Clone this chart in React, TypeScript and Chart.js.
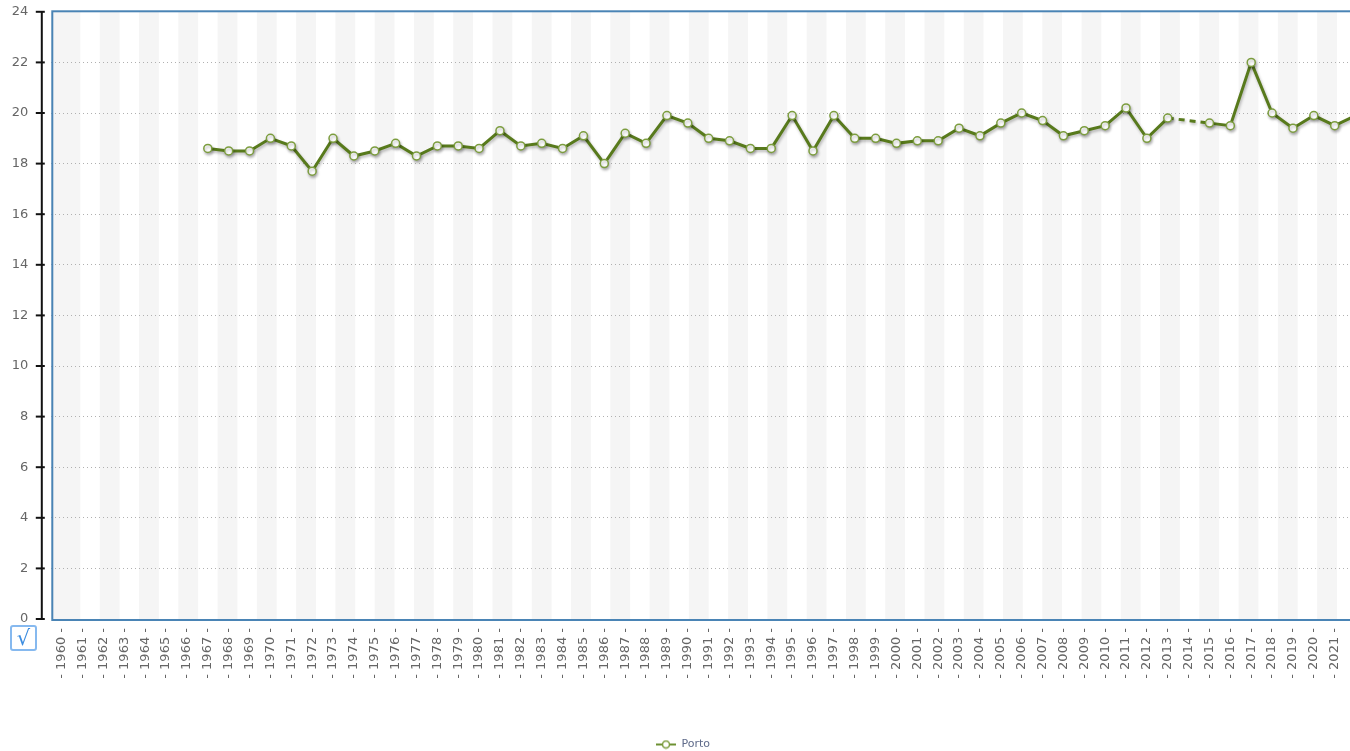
import React, { useEffect, useRef } from "react";
import { Chart, registerables } from "chart.js";

Chart.register(...registerables);

const years = [
  "1960", "1961", "1962", "1963", "1964", "1965", "1966", "1967", "1968", "1969",
  "1970", "1971", "1972", "1973", "1974", "1975", "1976", "1977", "1978", "1979",
  "1980", "1981", "1982", "1983", "1984", "1985", "1986", "1987", "1988", "1989",
  "1990", "1991", "1992", "1993", "1994", "1995", "1996", "1997", "1998", "1999",
  "2000", "2001", "2002", "2003", "2004", "2005", "2006", "2007", "2008", "2009",
  "2010", "2011", "2012", "2013", "2014", "2015", "2016", "2017", "2018", "2019",
  "2020", "2021", "2022",
];

const porto: (number | null)[] = [
  null, null, null, null, null, null, null, 18.6, 18.5, 18.5,
  19.0, 18.7, 17.7, 19.0, 18.3, 18.5, 18.8, 18.3, 18.7, 18.7,
  18.6, 19.3, 18.7, 18.8, 18.6, 19.1, 18.0, 19.2, 18.8, 19.9,
  19.6, 19.0, 18.9, 18.6, 18.6, 19.9, 18.5, 19.9, 19.0, 19.0,
  18.8, 18.9, 18.9, 19.4, 19.1, 19.6, 20.0, 19.7, 19.1, 19.3,
  19.5, 20.2, 19.0, 19.8, null, 19.6, 19.5, 22.0, 20.0, 19.4,
  19.9, 19.5, 19.9,
];

const seriesName = "Porto";
const yMin = 0;
const yMax = 24;
const yStep = 2;

const LINE = "#587a1c";
const POINT_BORDER = "#7c9d3e";

export default function App() {
  const ref = useRef<HTMLCanvasElement | null>(null);

  useEffect(() => {
    if (!ref.current) return;

    const icon = document.createElement("canvas");
    icon.width = 20;
    icon.height = 10;
    const ic = icon.getContext("2d")!;
    ic.strokeStyle = "#6d9132";
    ic.lineWidth = 2;
    ic.beginPath();
    ic.moveTo(0, 5);
    ic.lineTo(20, 5);
    ic.stroke();
    ic.beginPath();
    ic.arc(10, 5, 3.5, 0, Math.PI * 2);
    ic.fillStyle = "#ffffff";
    ic.fill();
    ic.strokeStyle = POINT_BORDER;
    ic.lineWidth = 1.5;
    ic.stroke();

    const decor = {
      id: "decor",
      beforeDraw(chart: any) {
        const { ctx, chartArea } = chart;
        const { left, right, top, bottom } = chartArea;
        ctx.save();
        ctx.fillStyle = "#f5f5f5";
        const period = 39.27;
        const w = 19.8;
        for (let k = -1; k < 40; k++) {
          let s = left + 48.5 + k * period;
          const e = s + w;
          if (k === -1) s = left;
          if (s > right) break;
          ctx.fillRect(s, top, Math.min(e, right) - s, bottom - top);
        }
        ctx.restore();
      },
      beforeDatasetsDraw(chart: any) {
        const { ctx, chartArea, scales } = chart;
        const { left, right, top, bottom } = chartArea;
        ctx.save();
        ctx.strokeStyle = "#4a84b5";
        ctx.lineWidth = 2;
        ctx.strokeRect(left + 1, top - 0.5, right - left, bottom - top + 1.5);
        const ax = left - 9.5;
        ctx.strokeStyle = "#111";
        ctx.lineWidth = 2;
        ctx.beginPath();
        ctx.moveTo(ax, top);
        ctx.lineTo(ax, bottom);
        ctx.stroke();
        const y = scales.y;
        y.ticks.forEach((t: any) => {
          const py = y.getPixelForValue(t.value);
          ctx.beginPath();
          ctx.moveTo(ax - 6, py);
          ctx.lineTo(ax + 3, py);
          ctx.stroke();
        });
        ctx.restore();
      },
      beforeDatasetDraw(chart: any) {
        const ctx = chart.ctx;
        ctx.save();
        ctx.shadowColor = "rgba(0,0,0,0.28)";
        ctx.shadowBlur = 3;
        ctx.shadowOffsetX = 1;
        ctx.shadowOffsetY = 2;
      },
      afterDatasetDraw(chart: any) {
        chart.ctx.restore();
      },
    };

    const chart = new Chart(ref.current, {
      type: "line",
      data: {
        labels: years,
        datasets: [
          {
            label: seriesName,
            data: porto,
            borderColor: LINE,
            borderWidth: 3,
            backgroundColor: "#ffffff",
            pointBackgroundColor: "#ffffff",
            pointBorderColor: POINT_BORDER,
            pointBorderWidth: 1.5,
            pointRadius: 4,
            pointHoverRadius: 4,
            tension: 0,
            spanGaps: true,
            fill: false,
            segment: {
              borderDash: (c: any) =>
                c.p0.skip || c.p1.skip ? [6, 5] : undefined,
            },
          },
        ],
      },
      options: {
        animation: false,
        responsive: false,
        devicePixelRatio: 1,
        events: [],
        layout: { padding: { left: 0, right: 36, top: 11, bottom: 0 } },
        plugins: {
          tooltip: { enabled: false },
          legend: {
            display: true,
            position: "bottom",
            labels: {
              usePointStyle: true,
              pointStyle: icon as any,
              pointStyleWidth: 20,
              padding: 5,
              color: "#5f6b8a",
              font: { family: "DejaVu Sans", size: 11 },
            },
          },
        },
        scales: {
          x: {
            type: "category",
            offset: true,
            grid: { display: false, drawTicks: false },
            border: { display: false },
            afterFit: (s: any) => {
              s.height = 115;
            },
            ticks: {
              autoSkip: false,
              minRotation: 90,
              maxRotation: 90,
              padding: 9,
              color: "#666",
              font: { family: "DejaVu Sans", size: 13 },
              callback: function (this: any, v: any) {
                return "- " + this.getLabelForValue(v) + " -";
              },
            },
          },
          y: {
            min: yMin,
            max: yMax,
            afterFit: (s: any) => {
              s.width = 51.3;
            },
            grid: {
              drawTicks: false,
              color: (c: any) =>
                c.tick && (c.tick.value === yMin || c.tick.value === yMax)
                  ? "rgba(0,0,0,0)"
                  : "#b0b0b0",
              lineWidth: 1,
            },
            border: { display: false, dash: [1, 3] },
            ticks: {
              stepSize: yStep,
              padding: 23,
              color: "#666",
              font: { family: "DejaVu Sans", size: 13 },
            },
          },
        },
      },
      plugins: [decor],
    });

    return () => chart.destroy();
  }, []);

  return (
    <div
      style={{
        position: "absolute",
        left: 0,
        top: 0,
        width: 1350,
        height: 751,
        overflow: "hidden",
        background: "#fff",
      }}
    >
      <canvas
        ref={ref}
        width={1402}
        height={779}
        style={{
          display: "block",
          position: "absolute",
          left: 0,
          top: -19,
          width: 1402,
          height: 779,
        }}
      />
      <div
        style={{
          position: "absolute",
          left: 10,
          top: 625,
          width: 23,
          height: 22,
          border: "2px solid #86b9ef",
          borderRadius: 3,
          background: "#fff",
          color: "#3c8de0",
          fontFamily: "DejaVu Sans",
          fontSize: 21,
          lineHeight: "22px",
          textAlign: "center",
        }}
      >
        √
      </div>
    </div>
  );
}
